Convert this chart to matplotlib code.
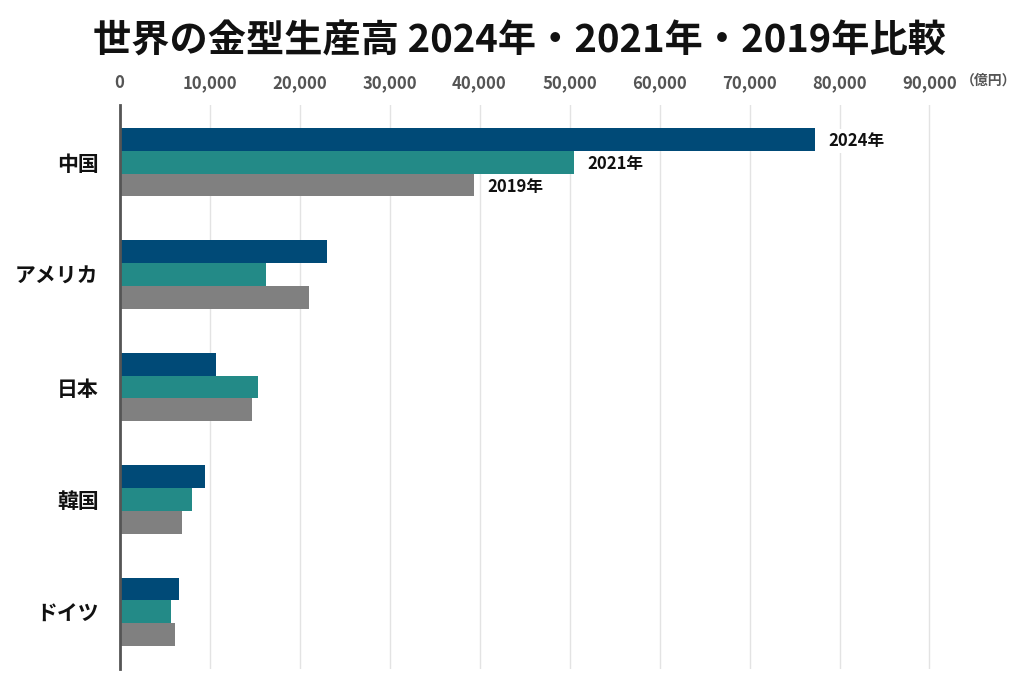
import matplotlib
matplotlib.use("Agg")
import matplotlib.pyplot as plt
import numpy as np

plt.rcParams["font.family"] = ["Noto Sans CJK JP", "DejaVu Sans"]

# 世界の金型生産高（億円）
countries = ["中国", "アメリカ", "日本", "韓国", "ドイツ"]
years = ["2024年", "2021年", "2019年"]
v2024 = [77300, 23000, 10700, 9450, 6600]
v2021 = [50500, 16300, 15400, 8000, 5700]
v2019 = [39400, 21000, 14700, 6900, 6200]
colors = ["#004A77", "#238A87", "#808080"]
xticks = list(range(0, 90001, 10000))

W, H = 1024, 683
fig = plt.figure(figsize=(W / 100, H / 100), dpi=100)
# axes placed in pixel coordinates of the reference
left, right, top, bottom = 119.5, 956, 105, 669
ax = fig.add_axes([left / W, 1 - bottom / H, (right - left) / W, (bottom - top) / H])

y = np.arange(len(countries))
h = 0.204
for k, (vals, c) in enumerate(zip([v2024, v2021, v2019], colors)):
    ax.barh(y + (k - 1) * h, vals, height=h, color=c, zorder=2)

# Jahres-Labels nur beim ersten Land
for k, vals in enumerate([v2024, v2021, v2019]):
    ax.text(vals[0] + 1500, y[0] + (k - 1) * h + 0.02, years[k], va="center", ha="left",
            fontsize=12, fontweight="bold", color="#111111", zorder=3,
            bbox=dict(facecolor="white", edgecolor="none", pad=2))

ax.set_xlim(0, (right - left) / 9.0 * 1000)
ax.set_ylim(len(countries) - 0.493, -0.507)
ax.set_xticks(xticks)
ax.set_xticklabels([f"{t:,}" for t in xticks])
ax.xaxis.tick_top()
ax.tick_params(axis="x", length=0, pad=9, labelsize=12, labelcolor="#555555")
for lab in ax.get_xticklabels():
    lab.set_fontweight("bold")
ax.set_yticks(y)
ax.set_yticklabels(countries, fontsize=15, fontweight="bold", color="#111111")
ax.tick_params(axis="y", length=0, pad=15)

ax.grid(axis="x", color="#e3e3e3", lw=1, zorder=0)
for s in ["top", "right", "bottom"]:
    ax.spines[s].set_visible(False)
ax.spines["left"].set_color("#555555")
ax.spines["left"].set_linewidth(2)
ax.spines["left"].set_zorder(4)

fig.text(961 / W, 1 - 81 / H, "（億円）", fontsize=10, fontweight="bold", color="#555555",
         va="center", ha="left")
fig.text(0.507, 1 - 41 / H, "世界の金型生産高 2024年・2021年・2019年比較", fontsize=27.5,
         fontweight="bold", ha="center", va="center", color="#111111")

fig.savefig("out.png", dpi=100, facecolor="white")
